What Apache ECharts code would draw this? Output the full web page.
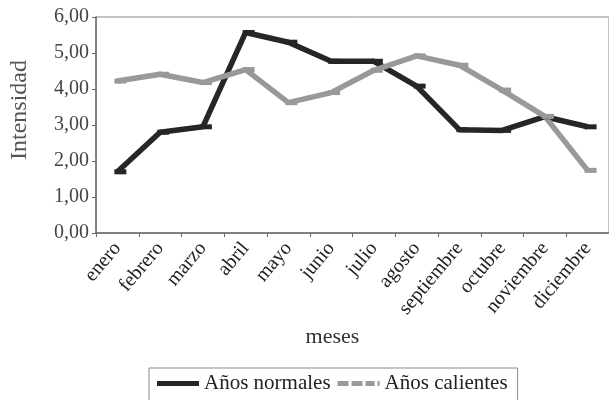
<!DOCTYPE html>
<html>
<head>
<meta charset="utf-8">
<script src="https://cdn.jsdelivr.net/npm/echarts@6/dist/echarts.min.js"></script>
<style>
  html, body { margin: 0; padding: 0; background: #fff; }
  #chart { width: 609px; height: 400px; }
</style>
</head>
<body>
<div id="chart"></div>
<script>
const meses = ['enero', 'febrero', 'marzo', 'abril', 'mayo', 'junio', 'julio',
  'agosto', 'septiembre', 'octubre', 'noviembre', 'diciembre']
const normales = [1.70, 2.80, 2.95, 5.57, 5.30, 4.77, 4.77, 4.08, 2.87, 2.85, 3.23, 2.95]
const calientes = [4.22, 4.41, 4.18, 4.54, 3.62, 3.90, 4.52, 4.92, 4.66, 3.97, 3.24, 1.74]

const serif = "'Liberation Serif', 'DejaVu Serif', serif"
const chart = echarts.init(document.getElementById('chart'))

chart.setOption({
  backgroundColor: '#fff',
  animation: false,
  grid: {
    left: 95, top: 17, width: 524, height: 216,
    show: true, borderColor: '#8a8a8a', borderWidth: 1
  },
  legend: {
    left: 149, top: 368,
    padding: [5, 10, 8, 8],
    borderColor: '#8a8a8a', borderWidth: 1,
    itemGap: 7, itemWidth: 42, itemHeight: 5,
    textStyle: { fontFamily: serif, fontSize: 21, color: '#222' },
    data: [
      { name: 'Años normales', icon: 'rect' },
      { name: 'Años calientes', icon: 'path://M0,0h11v5h-11z M14,0h11v5h-11z M28,0h9v5h-9z M40,0h2v5h-2z' }
    ]
  },
  xAxis: {
    type: 'category',
    data: meses,
    boundaryGap: true,
    name: 'meses',
    nameLocation: 'middle',
    nameGap: 90,
    nameTextStyle: { fontFamily: serif, fontSize: 22, color: '#333', padding: [0, 40, 0, 0] },
    axisLine: { lineStyle: { color: '#6a6a6a', width: 1.5 } },
    axisTick: { show: true, length: 4, lineStyle: { color: '#6a6a6a' } },
    axisLabel: {
      interval: 0, rotate: 50, margin: 12,
      fontFamily: serif, fontSize: 20, color: '#222'
    },
    splitLine: { show: false }
  },
  yAxis: {
    type: 'value',
    min: 0, max: 6, interval: 1,
    name: 'Intensidad',
    nameLocation: 'middle',
    nameGap: 64,
    nameTextStyle: { fontFamily: serif, fontSize: 24, color: '#555', padding: [0, 0, 0, 30] },
    axisLine: { show: true, lineStyle: { color: '#6a6a6a', width: 1.5 } },
    axisTick: { show: true, length: 4, lineStyle: { color: '#6a6a6a' } },
    axisLabel: {
      margin: 7, fontFamily: serif, fontSize: 20, color: '#444',
      formatter: v => v.toFixed(2).replace('.', ',')
    },
    splitLine: { show: false }
  },
  series: [
    {
      name: 'Años normales',
      type: 'line',
      data: normales,
      color: '#262626',
      lineStyle: { width: 5.5, color: '#262626' },
      symbol: 'rect', symbolSize: [12, 5], symbolOffset: [3, 0],
      itemStyle: { color: '#262626' }
    },
    {
      name: 'Años calientes',
      type: 'line',
      data: calientes,
      color: '#999',
      lineStyle: { width: 5.5, color: '#999' },
      symbol: 'rect', symbolSize: [12, 5], symbolOffset: [3, 0],
      itemStyle: { color: '#999' }
    }
  ]
})
</script>
</body>
</html>
